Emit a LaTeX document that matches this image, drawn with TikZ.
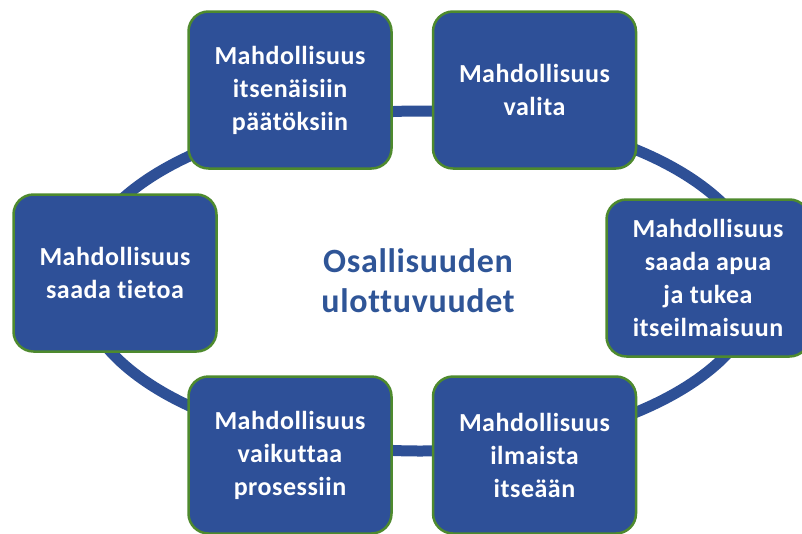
\documentclass[tikz,border=0pt]{standalone}
\usepackage{fontspec}
\setmainfont[LetterSpace=2,RawFeature={-liga;-clig;-dlig}]{Carlito}
\definecolor{boxblue}{HTML}{2E5098}
\definecolor{ringblue}{HTML}{2E5096}
\definecolor{edgegreen}{HTML}{4E8A2E}
\definecolor{titleblue}{HTML}{2F5597}
\begin{document}
\begin{tikzpicture}[x=1pt,y=-1pt,
  boxnode/.style={draw=edgegreen, line width=2.5pt, fill=boxblue, rounded corners=20pt,
    minimum width=203pt, minimum height=157pt, text=white, align=center,
    font=\fontsize{26}{33}\selectfont\bfseries, inner sep=0pt},
  titlenode/.style={text=titleblue, align=center, font=\fontsize{34}{40}\selectfont\bfseries}]
\useasboundingbox (0,0) rectangle (802,533);
\begin{scope}
\clip (0,0) rectangle (802,533);
\draw[ringblue, line width=11pt] (420,281) ellipse [x radius=340pt, y radius=170pt];
\node[boxnode] (tl) at (290,90) {Mahdollisuus\\itsenäisiin\\päätöksiin};
\node[boxnode] (tr) at (534.5,90) {Mahdollisuus\\valita};
\node[boxnode] (l) at (115,273) {Mahdollisuus\\saada tietoa};
\node[boxnode] (r) at (708,278) {Mahdollisuus\\saada apua\\ja tukea\\itseilmaisuun};
\node[boxnode] (bl) at (290,455) {Mahdollisuus\\vaikuttaa\\prosessiin};
\node[boxnode] (br) at (534.5,455) {Mahdollisuus\\ilmaista\\itseään};
\node[titlenode] (title) at (418,281) {Osallisuuden\\ulottuvuudet};
\end{scope}
\end{tikzpicture}
\end{document}
